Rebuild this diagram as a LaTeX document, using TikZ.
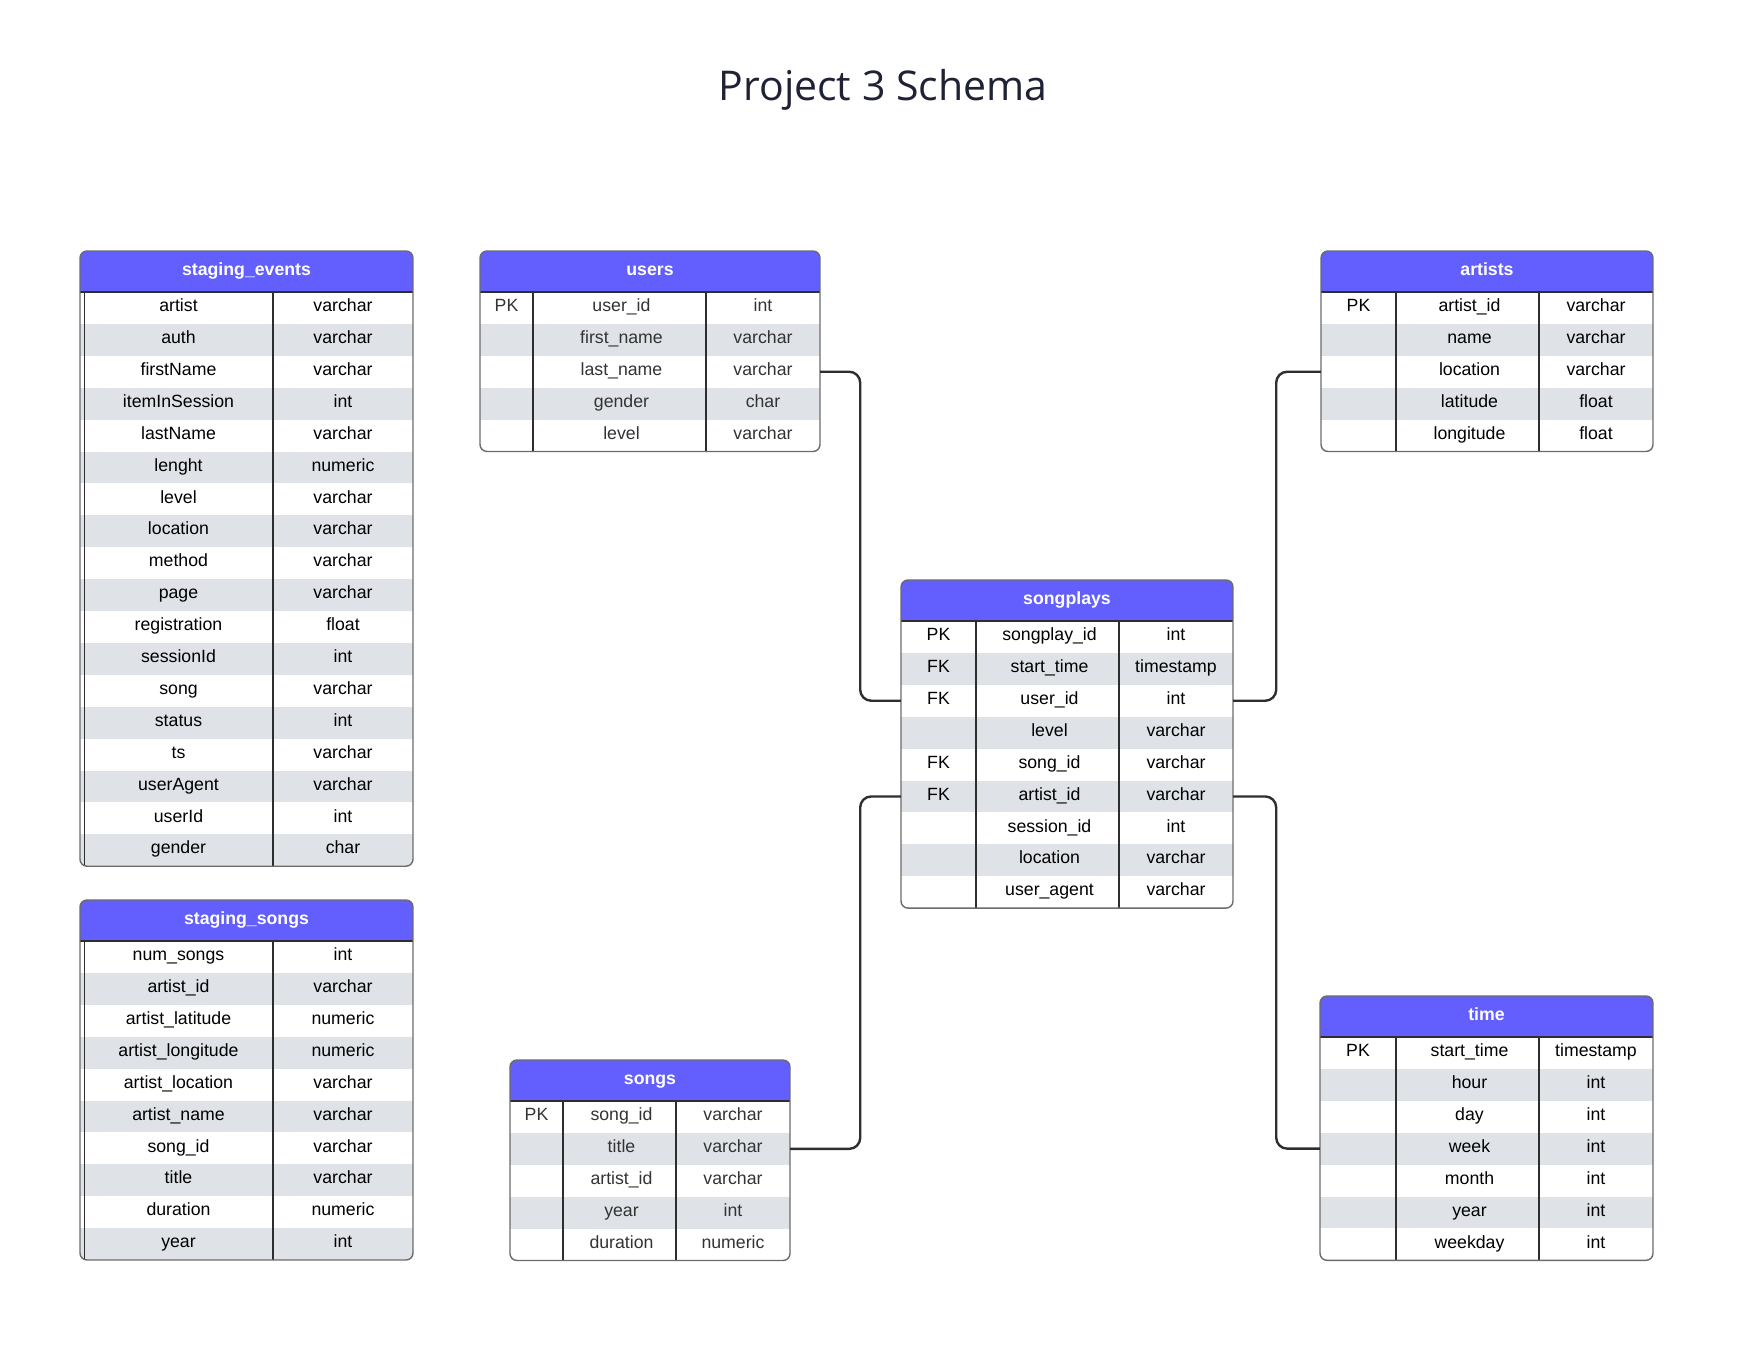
\documentclass[tikz,border=0pt]{standalone}
\usepackage{fontspec}
\setmainfont{Liberation Sans}
\newfontfamily\titlefont{Open Sans}
\usepackage{tikz}
\usetikzlibrary{positioning}

\definecolor{hdrblue}{HTML}{635FFF}
\definecolor{rowgray}{HTML}{DFE2E7}
\definecolor{framegray}{HTML}{6B6B6B}
\definecolor{linkdark}{HTML}{2E2E2E}
\definecolor{titlenavy}{HTML}{1F2235}

\tikzset{
  rowbox/.style={inner sep=0pt, minimum height=31.9pt},
  celltext/.style={inner sep=0pt, text height=12.7pt, text depth=5.3pt, font=\fontsize{17.7}{20}\selectfont},
  hdrtext/.style={inner sep=0pt, text height=12.7pt, text depth=5.3pt, text=white, font=\fontsize{17.7}{20}\selectfont\bfseries},
  link/.style={draw=linkdark, line width=2.4pt, rounded corners=11pt},
}

% #1 name, #2 left, #3 top, #4 width, #5 key column, #6 field column,
% #7 title, #8 rows (key/field/type), #9 text colour
\newcommand{\dbtable}[9]{%
  \foreach \k/\f/\t [count=\i] in {#8} {\xdef\nrows{\i}}
  \pgfmathsetmacro{\tbot}{#3+41+31.9*\nrows}
  \begin{scope}
    \clip[rounded corners=7pt] (#2,#3) rectangle (#2+#4,\tbot);
    \fill[white] (#2,#3) rectangle (#2+#4,\tbot);
    \fill[hdrblue] (#2,#3) rectangle (#2+#4,#3+41);
    \foreach \k/\f/\t [count=\i] in {#8} {
      \ifodd\i\else
        \fill[rowgray] (#2,#3+41+31.9*\i-31.9) rectangle (#2+#4,#3+41+31.9*\i);
      \fi
    }
  \end{scope}
  \node[hdrtext] (#1) at (#2+#4/2,#3+20.5) {#7};
  \foreach \k/\f/\t [count=\i] in {#8} {
    \node[rowbox, minimum width=#4pt] (#1-\i) at (#2+#4/2,#3+41+31.9*\i-15.95) {};
    \ifdim#5pt>0pt
      \node[celltext, text=#9] (#1-\i-k) at (#2+#5/2,#3+41+31.9*\i-15.95) {\k};
    \fi
    \node[celltext, text=#9] (#1-\i-f) at (#2+#5+#6/2+2,#3+41+31.9*\i-15.95) {\f};
    \node[celltext, text=#9] (#1-\i-t) at (#2+#5+#6+#4/2-#5/2-#6/2,#3+41+31.9*\i-15.95) {\t};
  }
  \draw[linkdark, line width=1.3pt] (#2,#3+41) -- (#2+#4,#3+41);
  \ifdim#5pt>0pt
    \draw[linkdark, line width=1.2pt] (#2+#5,#3+41) -- (#2+#5,\tbot);
  \else
    \draw[linkdark, line width=1.2pt] (#2+4.5,#3+41) -- (#2+4.5,\tbot);
  \fi
  \draw[linkdark, line width=1.2pt] (#2+#5+#6,#3+41) -- (#2+#5+#6,\tbot);
  \draw[framegray, line width=1.4pt, rounded corners=7pt] (#2,#3) rectangle (#2+#4,\tbot);
}

\begin{document}
\begin{tikzpicture}[x=1pt, y=-1pt]
    \useasboundingbox (0,0) rectangle (1759,1359);

    \node[anchor=base, inner sep=0pt, text=titlenavy, font=\fontsize{41}{48}\selectfont\titlefont] (title) at (883,101) {Project 3 Schema};

    \dbtable{stgevents}{80}{251}{333}{0}{193}{staging\_events}{
      /artist/varchar, /auth/varchar, /firstName/varchar, /itemInSession/int,
      /lastName/varchar, /lenght/numeric, /level/varchar, /location/varchar,
      /method/varchar, /page/varchar, /registration/float, /sessionId/int,
      /song/varchar, /status/int, /ts/varchar, /userAgent/varchar,
      /userId/int, /gender/char}{black}

    \dbtable{stgsongs}{80}{900}{333}{0}{193}{staging\_songs}{
      /num\_songs/int, /artist\_id/varchar, /artist\_latitude/numeric,
      /artist\_longitude/numeric, /artist\_location/varchar, /artist\_name/varchar,
      /song\_id/varchar, /title/varchar, /duration/numeric, /year/int}{black}

    \dbtable{users}{480}{251}{340}{53}{173}{users}{
      PK/user\_id/int, /first\_name/varchar, /last\_name/varchar,
      /gender/char, /level/varchar}{black!80}

    \dbtable{songplays}{901}{580}{332}{75}{143}{songplays}{
      PK/songplay\_id/int, FK/start\_time/timestamp, FK/user\_id/int,
      /level/varchar, FK/song\_id/varchar, FK/artist\_id/varchar,
      /session\_id/int, /location/varchar, /user\_agent/varchar}{black}

    \dbtable{artists}{1321}{251}{332}{75}{143}{artists}{
      PK/artist\_id/varchar, /name/varchar, /location/varchar,
      /latitude/float, /longitude/float}{black}

    \dbtable{songs}{510}{1060}{280}{53}{113}{songs}{
      PK/song\_id/varchar, /title/varchar, /artist\_id/varchar,
      /year/int, /duration/numeric}{black!80}

    \dbtable{time}{1320}{996}{333}{76}{143}{time}{
      PK/start\_time/timestamp, /hour/int, /day/int, /week/int,
      /month/int, /year/int, /weekday/int}{black}

    % relations
    \draw[link] (users-3.east) -- ++(40,0) |- (songplays-3.west);
    \draw[link] (songs-2.east) -- ++(70,0) |- (songplays-6.west);
    \draw[link] (songplays-3.east) -- ++(43,0) |- (artists-3.west);
    \draw[link] (songplays-6.east) -- ++(43,0) |- (time-4.west);

\end{tikzpicture}
\end{document}
